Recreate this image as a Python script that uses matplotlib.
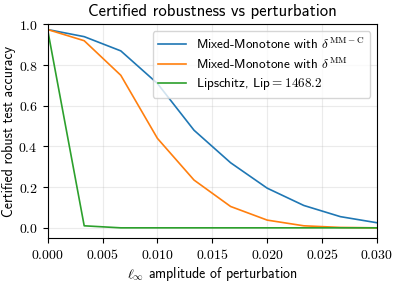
import matplotlib
matplotlib.use('Agg')
import matplotlib.pyplot as plt
import numpy as np

plt.rcParams['font.family'] = 'cmss10'
plt.rcParams['mathtext.fontset'] = 'cm'
plt.rcParams['axes.unicode_minus'] = False

eps = [0.0, 0.003333, 0.006667, 0.01, 0.013333, 0.016667, 0.02, 0.023333, 0.026667, 0.03]
acc_mmc = [0.975, 0.94, 0.87, 0.71, 0.48, 0.32, 0.195, 0.11, 0.055, 0.025]
acc_mm = [0.975, 0.92, 0.75, 0.44, 0.235, 0.105, 0.038, 0.01, 0.002, 0.0]
acc_lip = [0.975, 0.01, 0.0, 0.0, 0.0, 0.0, 0.0, 0.0, 0.0, 0.0]
lip_const = 1468.2

fig = plt.figure(figsize=(4.0, 2.81), dpi=100)
ax = fig.add_axes([0.119, 0.153, 0.8235, 0.76])

ax.plot(eps, acc_mmc, color='#1f77b4', linewidth=1.2, label=r'Mixed-Monotone with $\delta^{\mathrm{MM-C}}$')
ax.plot(eps, acc_mm, color='#ff7f0e', linewidth=1.2, label=r'Mixed-Monotone with $\delta^{\mathrm{MM}}$')
ax.plot(eps, acc_lip, color='#2ca02c', linewidth=1.2, label=r'Lipschitz, Lip$=%.1f$' % lip_const)

ax.set_xlim(0, 0.03)
ax.set_ylim(-0.05, 1.0)
ax.set_xticks(np.arange(0, 0.0301, 0.005))
ax.set_yticks(np.arange(0, 1.01, 0.2))
ax.xaxis.set_major_formatter(plt.FuncFormatter(lambda x, p: f'${x:.3f}$'))
ax.yaxis.set_major_formatter(plt.FuncFormatter(lambda x, p: f'${x:.1f}$'))
ax.tick_params(labelsize=10)
ax.grid(True, alpha=0.25)

ax.set_title('Certified robustness vs perturbation', fontsize=12)
ax.set_xlabel(r'$\ell_\infty$ amplitude of perturbation', fontsize=10, labelpad=2)
ax.set_ylabel('Certified robust test accuracy', fontsize=10, labelpad=2)
ax.legend(loc='upper right', fontsize=9.5, handlelength=2.1, labelspacing=0.35,
          borderaxespad=0.5)

plt.savefig('out.png', dpi=100)
